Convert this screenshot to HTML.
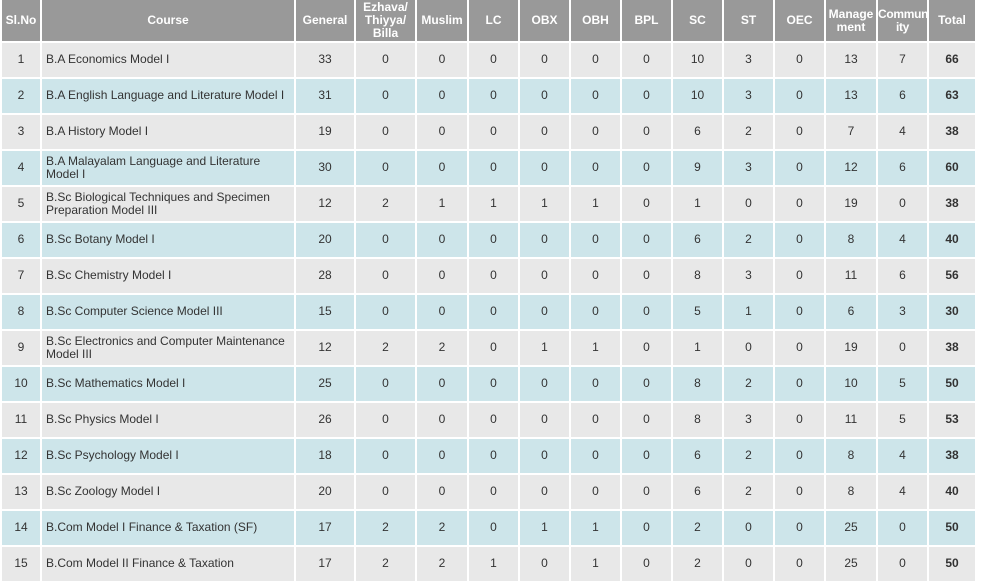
<!DOCTYPE html>
<html><head><meta charset="utf-8"><style>
body{margin:0;background:#fff;width:983px;height:571px;overflow:hidden;font-family:"Liberation Sans",Arial,sans-serif;}
table{border-collapse:collapse;table-layout:fixed;width:977px;position:absolute;left:0;top:0;}
td,th{border:2px solid #fff;font-size:12px;color:#333;text-align:center;padding:0 3px;line-height:13px;overflow:hidden;box-sizing:border-box;}
tr{height:36px;}
tr.h{height:41px;}
th{background:#999;color:#fff;font-weight:bold;padding:0;}
tr:first-child th{border-top:1px solid #999;}
td.c{text-align:left;padding-left:4px;}
td.t{font-weight:bold;}
tr:nth-child(even) td{background:#e8e8e8;}
tr:nth-child(odd) td{background:#cde5ea;}
</style></head><body>
<table>
<colgroup><col style="width:40px"><col style="width:254px"><col style="width:60px"><col style="width:61px"><col style="width:52px"><col style="width:51px"><col style="width:51px"><col style="width:51px"><col style="width:51px"><col style="width:51px"><col style="width:51px"><col style="width:51px"><col style="width:52px"><col style="width:51px"></colgroup>
<tr class="h"><th>Sl.No</th><th>Course</th><th>General</th><th>Ezhava/<br>Thiyya/<br>Billa</th><th>Muslim</th><th>LC</th><th>OBX</th><th>OBH</th><th>BPL</th><th>SC</th><th>ST</th><th>OEC</th><th>Manage<br>ment</th><th style="letter-spacing:-0.3px">Commun<br>ity</th><th>Total</th></tr>
<tr><td>1</td><td class="c">B.A Economics Model I</td><td>33</td><td>0</td><td>0</td><td>0</td><td>0</td><td>0</td><td>0</td><td>10</td><td>3</td><td>0</td><td>13</td><td>7</td><td class="t">66</td></tr>
<tr><td>2</td><td class="c">B.A English Language and Literature Model I</td><td>31</td><td>0</td><td>0</td><td>0</td><td>0</td><td>0</td><td>0</td><td>10</td><td>3</td><td>0</td><td>13</td><td>6</td><td class="t">63</td></tr>
<tr><td>3</td><td class="c">B.A History Model I</td><td>19</td><td>0</td><td>0</td><td>0</td><td>0</td><td>0</td><td>0</td><td>6</td><td>2</td><td>0</td><td>7</td><td>4</td><td class="t">38</td></tr>
<tr><td>4</td><td class="c">B.A Malayalam Language and Literature Model I</td><td>30</td><td>0</td><td>0</td><td>0</td><td>0</td><td>0</td><td>0</td><td>9</td><td>3</td><td>0</td><td>12</td><td>6</td><td class="t">60</td></tr>
<tr><td>5</td><td class="c">B.Sc Biological Techniques and Specimen Preparation Model III</td><td>12</td><td>2</td><td>1</td><td>1</td><td>1</td><td>1</td><td>0</td><td>1</td><td>0</td><td>0</td><td>19</td><td>0</td><td class="t">38</td></tr>
<tr><td>6</td><td class="c">B.Sc Botany Model I</td><td>20</td><td>0</td><td>0</td><td>0</td><td>0</td><td>0</td><td>0</td><td>6</td><td>2</td><td>0</td><td>8</td><td>4</td><td class="t">40</td></tr>
<tr><td>7</td><td class="c">B.Sc Chemistry Model I</td><td>28</td><td>0</td><td>0</td><td>0</td><td>0</td><td>0</td><td>0</td><td>8</td><td>3</td><td>0</td><td>11</td><td>6</td><td class="t">56</td></tr>
<tr><td>8</td><td class="c">B.Sc Computer Science Model III</td><td>15</td><td>0</td><td>0</td><td>0</td><td>0</td><td>0</td><td>0</td><td>5</td><td>1</td><td>0</td><td>6</td><td>3</td><td class="t">30</td></tr>
<tr><td>9</td><td class="c">B.Sc Electronics and Computer Maintenance Model III</td><td>12</td><td>2</td><td>2</td><td>0</td><td>1</td><td>1</td><td>0</td><td>1</td><td>0</td><td>0</td><td>19</td><td>0</td><td class="t">38</td></tr>
<tr><td>10</td><td class="c">B.Sc Mathematics Model I</td><td>25</td><td>0</td><td>0</td><td>0</td><td>0</td><td>0</td><td>0</td><td>8</td><td>2</td><td>0</td><td>10</td><td>5</td><td class="t">50</td></tr>
<tr><td>11</td><td class="c">B.Sc Physics Model I</td><td>26</td><td>0</td><td>0</td><td>0</td><td>0</td><td>0</td><td>0</td><td>8</td><td>3</td><td>0</td><td>11</td><td>5</td><td class="t">53</td></tr>
<tr><td>12</td><td class="c">B.Sc Psychology Model I</td><td>18</td><td>0</td><td>0</td><td>0</td><td>0</td><td>0</td><td>0</td><td>6</td><td>2</td><td>0</td><td>8</td><td>4</td><td class="t">38</td></tr>
<tr><td>13</td><td class="c">B.Sc Zoology Model I</td><td>20</td><td>0</td><td>0</td><td>0</td><td>0</td><td>0</td><td>0</td><td>6</td><td>2</td><td>0</td><td>8</td><td>4</td><td class="t">40</td></tr>
<tr><td>14</td><td class="c">B.Com Model I Finance &amp; Taxation (SF)</td><td>17</td><td>2</td><td>2</td><td>0</td><td>1</td><td>1</td><td>0</td><td>2</td><td>0</td><td>0</td><td>25</td><td>0</td><td class="t">50</td></tr>
<tr><td>15</td><td class="c">B.Com Model II Finance &amp; Taxation</td><td>17</td><td>2</td><td>2</td><td>1</td><td>0</td><td>1</td><td>0</td><td>2</td><td>0</td><td>0</td><td>25</td><td>0</td><td class="t">50</td></tr>
</table>
</body></html>
